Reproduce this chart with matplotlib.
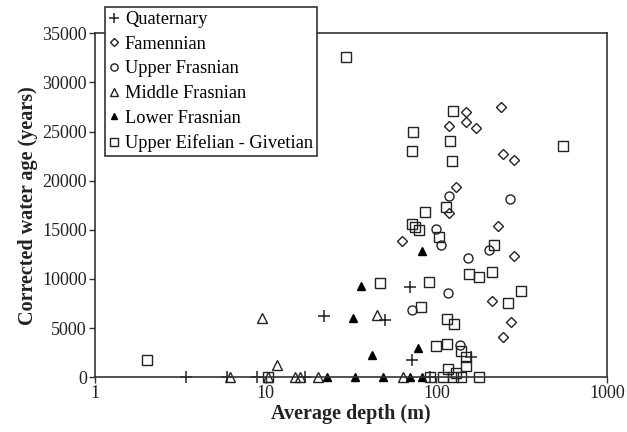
import matplotlib
matplotlib.use("Agg")
import matplotlib.pyplot as plt

plt.rcParams['font.family'] = ['Liberation Serif', 'DejaVu Serif']

# Quaternary (+)
quat_depth = [22, 70, 50, 72, 160, 3.4, 5.9, 8.9, 17, 92]
quat_age = [6200, 9200, 5800, 1700, 2000, 0, 0, 0, 0, 0]

# Famennian (diamond)
fam_depth = [149, 238, 118, 149, 171, 247, 286, 130, 118, 230, 63, 286, 211, 274, 247]
fam_age = [27000, 27500, 25600, 26000, 25400, 22700, 22100, 19400, 16700, 15400,
           13900, 12300, 7800, 5600, 4100]

# Upper Frasnian (circle)
ufr_depth = [118, 270, 100, 106, 154, 204, 117, 72, 137]
ufr_age = [18400, 18100, 15100, 13400, 12100, 12900, 8600, 6800, 3300]

# Middle Frasnian (open triangle)
mfr_depth = [9.5, 11.6, 45, 6.2, 10.3, 14.9, 15.9, 20.1, 64]
mfr_age = [6000, 1200, 6300, 0, 0, 0, 0, 0, 0]

# Lower Frasnian (filled triangle)
lfr_depth = [36, 32.6, 41.8, 82, 78, 22.8, 33.4, 48.5, 70, 82]
lfr_age = [9300, 6000, 2300, 12800, 3000, 0, 0, 0, 0, 0]

# Upper Eifelian - Givetian (square)
ueg_depth = [2, 29.5, 47, 125, 73, 120, 72, 123, 554, 86, 114, 72, 75, 79, 103,
             218, 155, 178, 211, 90, 313, 262, 81, 115, 127, 99, 115, 139, 150,
             149, 117, 131, 10.3, 92, 110, 125, 140, 178]
ueg_age = [1700, 32600, 9600, 27100, 24900, 24000, 23000, 22000, 23500, 16800,
           17300, 15600, 15300, 15000, 14300, 13400, 10500, 10200, 10700, 9700,
           8800, 7500, 7100, 5900, 5400, 3200, 3400, 2700, 2100, 1100, 800, 400,
           0, 0, 0, 0, 0, 0]

series_labels = ["Quaternary", "Famennian", "Upper Frasnian", "Middle Frasnian",
                 "Lower Frasnian", "Upper Eifelian - Givetian"]

fig = plt.figure(figsize=(6.27, 4.32), dpi=100)
ax = fig.add_axes([0.152, 0.127, 0.816, 0.796])

mec = '#222222'
ax.plot(quat_depth, quat_age, linestyle='none', marker='+', ms=9, mew=1.1,
        color=mec, label=series_labels[0], clip_on=False)
ax.plot(fam_depth, fam_age, linestyle='none', marker='D', ms=5.5, mew=1.0,
        mfc='none', mec=mec, label=series_labels[1], clip_on=False)
ax.plot(ufr_depth, ufr_age, linestyle='none', marker='o', ms=6.5, mew=1.0,
        mfc='none', mec=mec, label=series_labels[2], clip_on=False)
ax.plot(mfr_depth, mfr_age, linestyle='none', marker='^', ms=7, mew=1.0,
        mfc='none', mec=mec, label=series_labels[3], clip_on=False)
ax.plot(lfr_depth, lfr_age, linestyle='none', marker='^', ms=6, mew=1.0,
        mfc='black', mec='black', label=series_labels[4], clip_on=False)
ax.plot(ueg_depth, ueg_age, linestyle='none', marker='s', ms=6.5, mew=1.0,
        mfc='none', mec=mec, label=series_labels[5], clip_on=False)

ax.set_xscale('log')
ax.set_xlim(1, 1000)
ax.set_ylim(0, 35000)
ax.set_yticks(range(0, 35001, 5000))
ax.set_xticks([1, 10, 100, 1000])
ax.set_xticklabels(['1', '10', '100', '1000'])
ax.minorticks_off()
ax.tick_params(axis='both', direction='out', length=4, width=1, labelsize=13,
               colors='#333333', labelcolor='#222222', pad=2)
for s in ax.spines.values():
    s.set_linewidth(1.2)
    s.set_color('#333333')

ax.set_xlabel('Average depth (m)', fontsize=14.5, fontweight='bold', color='#222222', labelpad=1)
ax.set_ylabel('Corrected water age (years)', fontsize=14.5, fontweight='bold', color='#222222', labelpad=3)

leg = ax.legend(loc='upper left', bbox_to_anchor=(0.167, 0.983),
                bbox_transform=fig.transFigure, fontsize=13.2, frameon=True,
                fancybox=False, edgecolor='#333333', borderpad=0.2,
                handlelength=0.6, handletextpad=0.3, labelspacing=0.42,
                borderaxespad=0, markerscale=0.8)
leg.get_frame().set_linewidth(1.2)
leg.get_frame().set_alpha(1)

fig.savefig('out.png', dpi=100)
